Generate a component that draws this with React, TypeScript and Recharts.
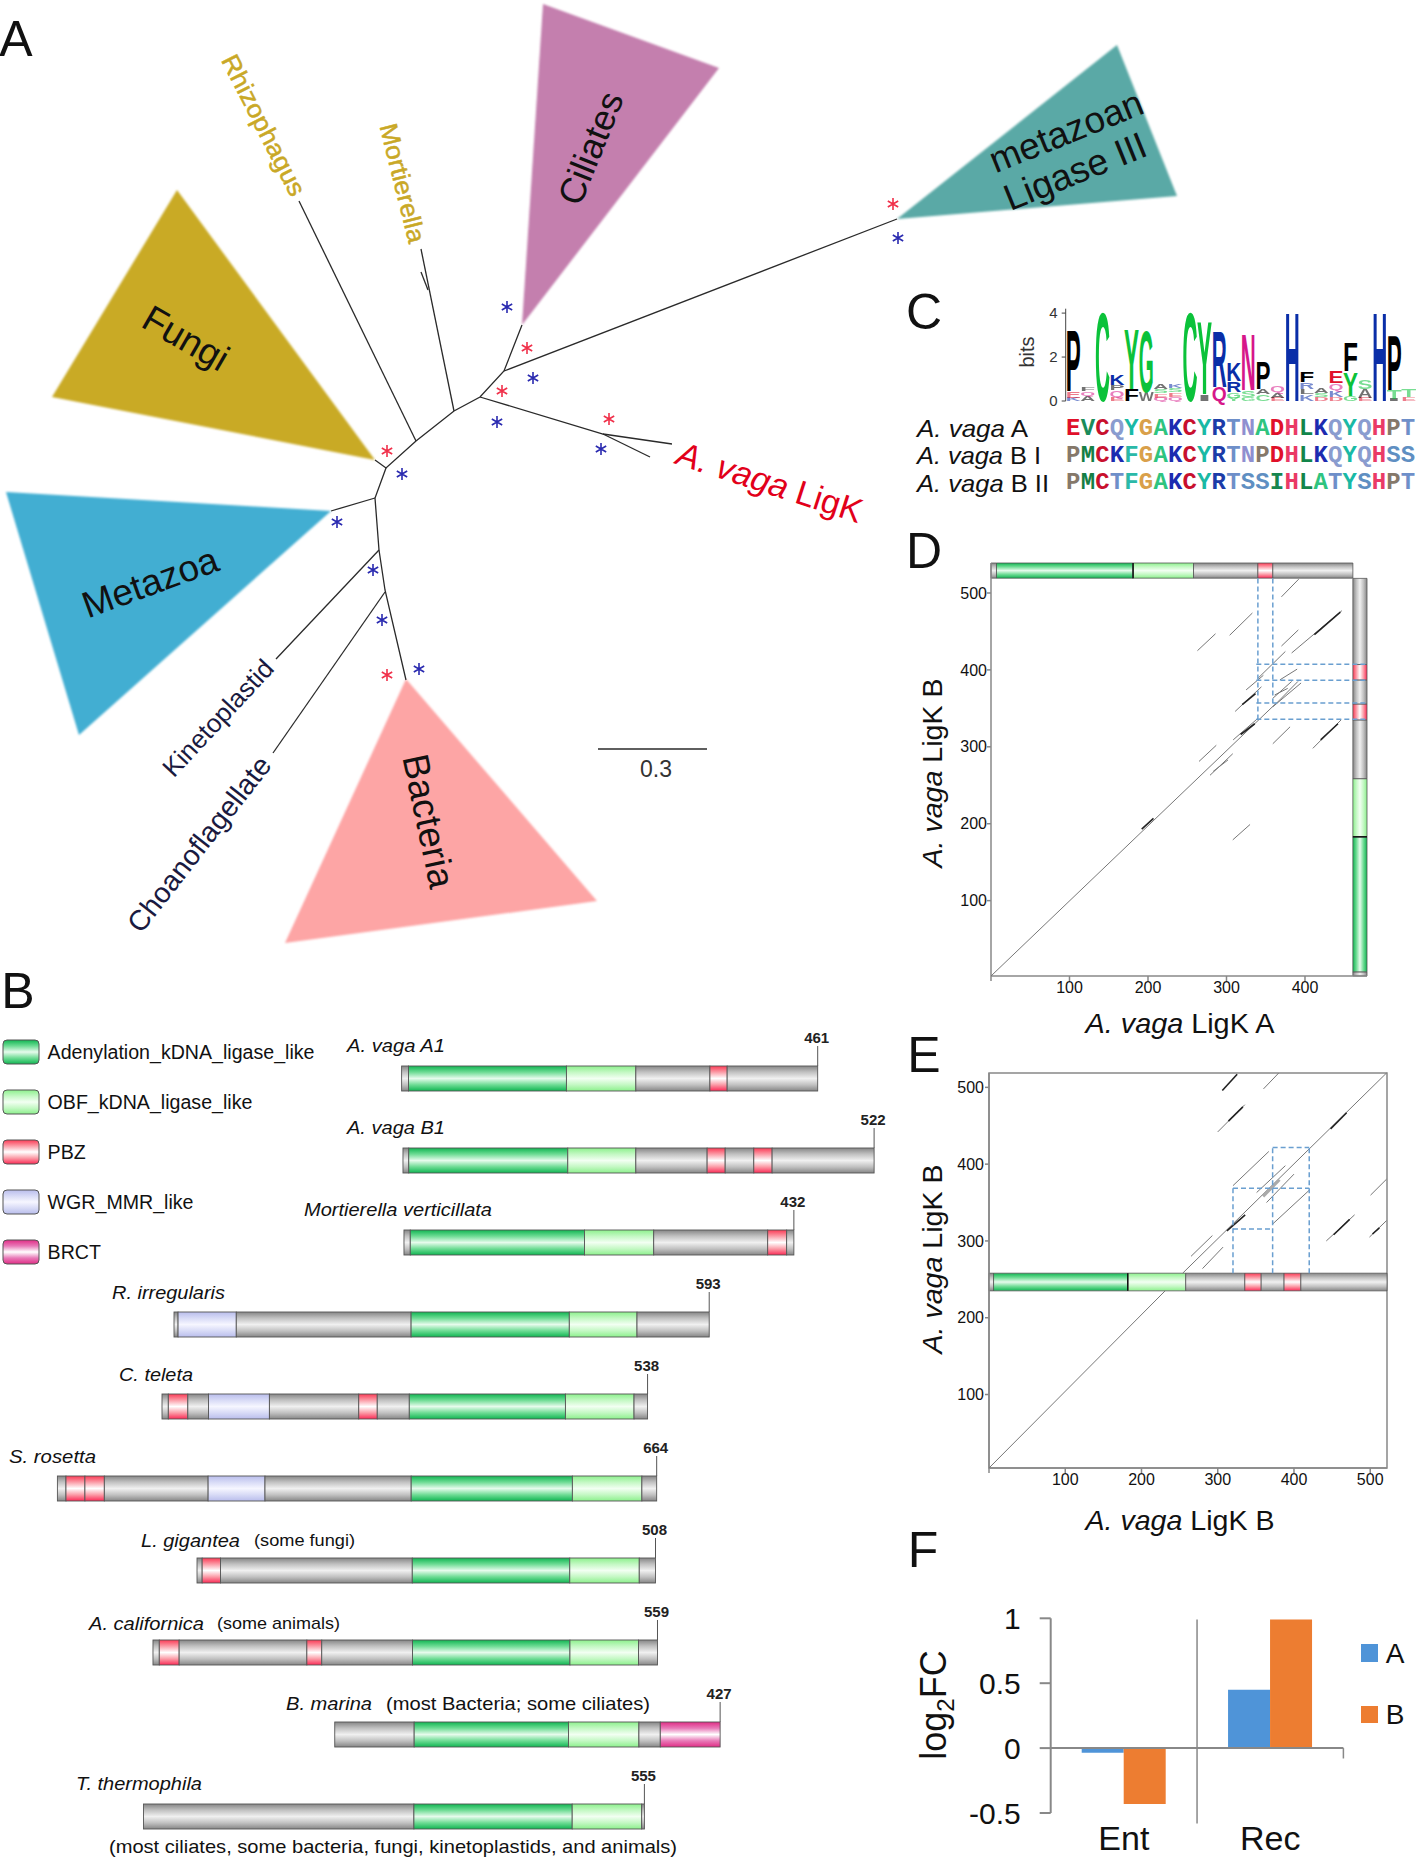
import {
  Bar,
  BarChart,
  ReferenceArea,
  ReferenceLine,
  Scatter,
  ScatterChart,
  XAxis,
  YAxis,
} from "recharts";

const FONT = "'Liberation Sans', Arial, sans-serif";

// ---- panel A: tree, in page units
const TRIANGLES: { color: string; pts: number[][] }[] = [
  { color: "#c9aa25", pts: [[177, 190], [52, 397], [375, 460]] },
  { color: "#c47fae", pts: [[543, 4], [719, 68], [522, 325]] },
  { color: "#5aa9a6", pts: [[1117, 45], [1177, 196], [897, 219]] },
  { color: "#42aed2", pts: [[6, 492], [331, 511], [79, 735]] },
  { color: "#fda5a5", pts: [[406, 679], [285, 943], [597, 901]] },
];
const BRANCHES = [
  [[375, 460], [386, 468], [416, 441], [454, 411], [480, 397], [504, 371], [522, 325]],
  [[299, 201], [416, 441]],
  [[421, 249], [454, 411]],
  [[421, 272], [428, 290]],
  [[504, 371], [897, 219]],
  [[480, 397], [603, 434], [672, 444]],
  [[603, 434], [650, 457]],
  [[386, 468], [375, 498], [379, 550], [385, 590], [406, 680]],
  [[375, 498], [331, 511]],
  [[379, 550], [276, 659]],
  [[385, 592], [273, 753]],
  [[598, 749], [707, 749]],
];
const RED_STARS = [[527, 348], [502, 391], [609, 419], [387, 451], [387, 675], [893, 204]];
const BLUE_STARS = [[507, 307], [533, 378], [497, 422], [601, 449], [402, 474], [373, 570], [382, 620], [419, 669], [337, 522], [898, 238]];

// ---- panel B: domains, residue lengths per protein
const PROTEINS = ["A1", "B1", "Mv", "Ri", "Ct", "Sr", "Lg", "Ac", "Bm", "Tt"];
const OFFSETS = [445, 446.5, 447.6, 192.8, 179.5, 63.6, 218.3, 169.5, 370.9, 159];
const LENGTHS = [461, 522, 432, 593, 538, 664, 508, 559, 427, 555];
const DOMAIN_ENDS: [string, number][][] = [
  [["grey", 7.6], ["green", 182.6], ["light", 259.5], ["grey", 341.6], ["pink", 360.7], ["grey", 461]],
  [["grey", 6.4], ["green", 182.6], ["light", 258], ["grey", 337], ["pink", 357], ["grey", 388.7], ["pink", 409], ["grey", 522]],
  [["grey", 7], ["green", 200], ["light", 276.7], ["grey", 403], ["pink", 424], ["grey", 432]],
  [["grey", 4.5], ["wgr", 69], ["grey", 262.7], ["green", 438], ["light", 513], ["grey", 593]],
  [["grey", 7], ["pink", 28.6], ["grey", 51.5], ["wgr", 119], ["grey", 218], ["pink", 238.5], ["grey", 274], ["green", 447], ["light", 523], ["grey", 538]],
  [["grey", 9.5], ["pink", 30.5], ["pink", 52], ["grey", 167], ["wgr", 230], ["grey", 392], ["green", 570.6], ["light", 647.6], ["grey", 664]],
  [["grey", 5.7], ["pink", 26], ["grey", 238.5], ["green", 413], ["light", 490], ["grey", 508]],
  [["grey", 7], ["pink", 29], ["grey", 170.5], ["pink", 187], ["grey", 287.5], ["green", 462], ["light", 538], ["grey", 559]],
  [["grey", 88], ["green", 259], ["light", 337], ["grey", 360.7], ["brct", 427]],
  [["grey", 299.6], ["green", 475], ["light", 552], ["grey", 555]],
];
const LEGEND_B: [string, string][] = [
  ["green", "Adenylation_kDNA_ligase_like"],
  ["light", "OBF_kDNA_ligase_like"],
  ["pink", "PBZ"],
  ["wgr", "WGR_MMR_like"],
  ["brct", "BRCT"],
];
const GRADIENTS: Record<string, string[]> = {
  grey: ["#868686", "#c2c2c2", "#f0f0f0", "#c2c2c2", "#868686"],
  green: ["#10b552", "#6fdc95", "#e6fbec", "#6fdc95", "#10b552"],
  light: ["#8cf08c", "#c4f8c4", "#f2fff2", "#c4f8c4", "#8cf08c"],
  pink: ["#fb3a55", "#fb9da8", "#ffffff", "#fb9da8", "#fb2a55"],
  wgr: ["#b9bdec", "#d8dbf6", "#f6f6ff", "#d8dbf6", "#b9bdec"],
  brct: ["#e02c85", "#e87ab8", "#ffffff", "#e87ab8", "#e02c85"],
};

// ---- panel C: logo and alignment
const LOGO: [string, number][][] = [
  [["K", 0.15], ["E", 0.3], ["P", 2.85]],
  [["A", 0.25], ["Q", 0.2], ["F", 0.2]],
  [["C", 4.1]],
  [["E", 0.2], ["Q", 0.3], ["P", 0.25], ["K", 0.45]],
  [["F", 0.55], ["Y", 2.8]],
  [["W", 0.4], ["G", 2.85]],
  [["Q", 0.15], ["E", 0.2], ["S", 0.2], ["A", 0.25]],
  [["Q", 0.2], ["E", 0.2], ["S", 0.2], ["K", 0.2]],
  [["C", 4.1]],
  [["I", 0.3], ["Y", 3.4]],
  [["Q", 0.65], ["R", 2.6]],
  [["Y", 0.15], ["G", 0.25], ["R", 0.5], ["K", 0.85]],
  [["G", 0.2], ["S", 0.3], ["N", 2.6]],
  [["C", 0.3], ["A", 0.25], ["P", 1.25]],
  [["E", 0.15], ["A", 0.25], ["Q", 0.3]],
  [["H", 4.1]],
  [["K", 0.3], ["L", 0.25], ["R", 0.3], ["F", 0.5]],
  [["D", 0.2], ["S", 0.15], ["A", 0.25]],
  [["D", 0.2], ["K", 0.3], ["Q", 0.3], ["E", 0.55]],
  [["G", 0.25], ["Y", 1.1], ["F", 1.3]],
  [["E", 0.15], ["A", 0.4], ["S", 0.4]],
  [["H", 4.1]],
  [["I", 0.1], ["T", 0.4], ["P", 2.55]],
  [["E", 0.2], ["T", 0.35]],
];
const LOGO_COLORS: Record<string, string> = {
  C: "#0bc23a", Y: "#0bc23a", G: "#0bc23a", S: "#0bc23a", T: "#0bc23a",
  K: "#0a2ea8", R: "#0a2ea8", H: "#0a2ea8",
  N: "#d6178a", Q: "#d6178a",
  E: "#e0112b", D: "#e0112b",
};
const ALIGNMENT = [
  "EVCQYGAKCYRTNADHLKQYQHPT",
  "PMCKFGAKCYRTNPDHLKQYQHSS",
  "PMCTFGAKCYRTSSIHLATYSHPT",
];
const ALIGN_COLORS: Record<string, string> = {
  E: "#e0102a", D: "#e0102a", V: "#1a8c5a", C: "#c8102e", Q: "#8a9ccf", Y: "#19b9a5", G: "#d9a04a",
  A: "#2fc47f", K: "#1c2bb0", R: "#1c3ca8", T: "#6e8fc9", N: "#8f8fd0", H: "#ea3a66", L: "#12854a",
  P: "#85786a", M: "#157f45", F: "#2ab9a8", S: "#5f8fc2", I: "#17864f",
};

// ---- panel D: dot plot, residues
const D_LIGHT = [
  [0, 2, 363.6, 357], [359, 352, 395, 383], [383, 422, 447, 477], [370, 431, 391.5, 452], [370, 495, 392, 518],
  [304, 445, 333, 474], [263, 425, 286, 447], [340, 389, 375, 424], [325, 374, 347, 393], [311, 346, 344.5, 378],
  [368, 387, 390, 401], [359, 363, 383, 385], [363.6, 356.6, 391, 385], [361.4, 367.4, 378, 376],
  [308.5, 309, 340, 337], [359, 304, 381, 326], [410, 298, 446, 335], [265, 281, 287, 302], [279, 263, 308, 291],
  [283, 268, 302, 283], [308, 179, 330, 199],
];
const D_DARK = [
  [412, 446, 445, 475], [320, 355, 337, 369], [318, 316, 336, 330], [420, 309, 442, 330], [192, 193, 207, 207],
];
const D_DASHED = [
  [340, 519, 340, 336], [359, 519, 359, 357], [338, 336, 479, 336], [338, 357, 479, 357], [338, 386.5, 479, 386.5], [338, 407.4, 479, 407.4],
];
const D_TOP: [string, number, number][] = [["grey", 0, 7], ["green", 7, 181], ["light", 181, 258], ["grey", 258, 340], ["pink", 340, 359], ["grey", 359, 461]];
const D_SIDE: [string, number, number][] = [["grey", 2, 7.4], ["green", 7.4, 183], ["light", 183, 258.6], ["grey", 258.6, 335], ["pink", 335, 355.7], ["grey", 355.7, 387], ["pink", 387, 407], ["grey", 407, 519]];
const D_JOINS = [[181, 519.3, 181, 539], [461, 183, 479, 183]];
const TICKS_D_X = [0, 100, 200, 300, 400];
const TICKS_D_Y = [100, 200, 300, 400, 500];

// ---- panel E: dot plot, residues
const E_LIGHT = [
  [0, 4.3, 231, 235], [254, 258, 521.4, 518.7], [360, 498, 380, 518.7], [300, 442, 335.5, 477.4], [320, 372, 367, 416.5],
  [351, 363, 388.7, 398], [364, 350, 400, 387], [372, 322, 420, 366], [265, 280, 293, 307], [280, 264, 307, 292],
  [500.4, 359.6, 521.4, 380.4], [442.4, 300, 479.5, 334], [499, 305, 521.4, 326.5],
];
const E_DARK = [
  [306, 496, 325.5, 517], [314, 456, 333, 474.5], [448, 446, 469, 467], [312, 313, 336, 334], [452, 308, 473, 328], [503, 309, 512, 317],
];
const E_GREY = [[359.5, 358, 381, 379.6]];
const E_DASHED = [
  [320, 258, 320, 368.7], [372, 258, 372, 421.7], [420, 258, 420, 421.7], [320, 368.7, 420, 368.7], [320, 315.7, 372, 315.7], [372, 421.7, 420, 421.7],
];
const E_BAR: [string, number, number][] = [["grey", 0, 6], ["green", 6, 182], ["light", 182, 258], ["grey", 258, 335.5], ["pink", 335.5, 357], ["grey", 357, 387], ["pink", 387, 409], ["grey", 409, 522]];
const E_JOINS = [[182, 235, 182, 258]];
const TICKS_E_X = [0, 100, 200, 300, 400, 500];
const TICKS_E_Y = [100, 200, 300, 400, 500];

// ---- panel F
const GROUPS = ["Ent", "Rec"];
const SERIES_A = [-0.035, 0.45];
const SERIES_B = [-0.43, 0.99];
const TICKS_F = [-0.5, 0, 0.5, 1];

// ---- text
type Lab = { t: string; x: number; y: number; r?: number; s: number; c?: string; w?: number; a?: string; heavy?: boolean };
const PANEL_LETTERS: Lab[] = [
  { t: "A", x: 16, y: 39, s: 50 }, { t: "B", x: 18, y: 991, s: 50 }, { t: "C", x: 924, y: 312, s: 50 },
  { t: "D", x: 924, y: 551, s: 50 }, { t: "E", x: 924, y: 1055, s: 50 }, { t: "F", x: 923, y: 1550, s: 50 },
];
const GOLD = "#c9a826";
const TREE_LABELS: Lab[] = [
  { t: "Rhizophagus", x: 264, y: 125, r: 63, s: 25, c: GOLD, w: 155, heavy: true },
  { t: "Mortierella", x: 403, y: 183, r: 76, s: 25, c: GOLD, w: 122, heavy: true },
  { t: "Ciliates", x: 590, y: 148, r: -68, s: 36 },
  { t: "Fungi", x: 186, y: 338, r: 30, s: 37 },
  { t: "metazoan", x: 1066, y: 131, r: -22, s: 37 },
  { t: "Ligase III", x: 1075, y: 171, r: -22, s: 37 },
  { t: "Metazoa", x: 150, y: 582, r: -20, s: 37 },
  { t: "Bacteria", x: 429, y: 821, r: 78, s: 37 },
  { t: "Kinetoplastid", x: 218, y: 718, r: -47, s: 26, c: "#1a1a40" },
  { t: "Choanoflagellate", x: 199, y: 844, r: -52, s: 28.5, c: "#1a1a40" },
  { t: "/A. vaga/ LigK", x: 770, y: 482, r: 18, s: 34, c: "#e2001a" },
  { t: "0.3", x: 656, y: 769, s: 23, c: "#333" },
];
const SPECIES_LABELS: Lab[] = [
  { t: "/A. vaga A1/", x: 347, y: 1045, s: 19, w: 98, a: "start" },
  { t: "/A. vaga B1/", x: 347, y: 1127, s: 19, w: 98, a: "start" },
  { t: "/Mortierella verticillata/", x: 304, y: 1209, s: 19, w: 188, a: "start" },
  { t: "/R. irregularis/", x: 112, y: 1292, s: 19, w: 113, a: "start" },
  { t: "/C. teleta/", x: 119, y: 1374, s: 19, w: 74, a: "start" },
  { t: "/S. rosetta/", x: 9, y: 1456, s: 19, w: 87, a: "start" },
  { t: "/L. gigantea/", x: 141, y: 1540, s: 19, w: 99, a: "start" },
  { t: "(some fungi)", x: 254, y: 1540, s: 17, w: 101, a: "start" },
  { t: "/A. californica/", x: 89, y: 1623, s: 19, w: 115, a: "start" },
  { t: "(some animals)", x: 217, y: 1623, s: 17, w: 123, a: "start" },
  { t: "/B. marina/", x: 286, y: 1703, s: 19, w: 86, a: "start" },
  { t: "(most Bacteria; some ciliates)", x: 386, y: 1703, s: 19, w: 264, a: "start" },
  { t: "/T. thermophila/", x: 76, y: 1783, s: 19, w: 126, a: "start" },
  { t: "(most ciliates, some bacteria, fungi, kinetoplastids, and animals)", x: 109, y: 1846, s: 19, w: 568, a: "start" },
];
const SIDE_LABELS: Lab[] = [
  { t: "/A. vaga/ A", x: 917, y: 428, s: 24, w: 111, a: "start" },
  { t: "/A. vaga/ B I", x: 917, y: 455, s: 24, w: 124, a: "start" },
  { t: "/A. vaga/ B II", x: 917, y: 483, s: 24, w: 132, a: "start" },
  { t: "bits", x: 1027, y: 352, r: -90, s: 20, c: "#333" },
  { t: "/A. vaga/ LigK A", x: 1180, y: 1023, s: 28, w: 189 },
  { t: "/A. vaga/ LigK B", x: 932, y: 773, r: -90, s: 28, w: 189 },
  { t: "/A. vaga/ LigK B", x: 1180, y: 1520, s: 28, w: 189 },
  { t: "/A. vaga/ LigK B", x: 932, y: 1259, r: -90, s: 28, w: 189 },
  { t: "A", x: 1395, y: 1653, s: 28 },
  { t: "B", x: 1395, y: 1714, s: 28 },
];

function TextLabel({ l }: { l: Lab }) {
  const parts = l.t.split("/");
  return (
    <text
      x={l.x}
      y={l.y}
      fontSize={l.s}
      fill={l.c || "#111"}
      stroke={l.heavy ? l.c : undefined}
      strokeWidth={l.heavy ? 0.5 : undefined}
      textAnchor={(l.a as any) || "middle"}
      dominantBaseline="central"
      textLength={l.w}
      lengthAdjust={l.w ? "spacingAndGlyphs" : undefined}
      transform={l.r ? `rotate(${l.r} ${l.x} ${l.y})` : undefined}
    >
      {parts.map((p, i) => (
        <tspan key={i} fontStyle={i % 2 === 1 ? "italic" : "normal"}>{p}</tspan>
      ))}
    </text>
  );
}

const noDot = () => <g />;

function star(color: string) {
  return (p: any) => {
    const { cx, cy } = p;
    const r = 6;
    const d = r * 0.866;
    const e = r * 0.5;
    return (
      <path
        d={`M${cx} ${cy - r}V${cy + r}M${cx - d} ${cy - e}L${cx + d} ${cy + e}M${cx - d} ${cy + e}L${cx + d} ${cy - e}`}
        stroke={color}
        strokeWidth={1.6}
        fill="none"
      />
    );
  };
}

function segments(list: number[][], stroke: string, width: number, dash?: string) {
  return list.map((s, i) => (
    <Scatter
      key={`${stroke}-${width}-${i}`}
      data={[{ x: s[0], y: s[1] }, { x: s[2], y: s[3] }]}
      line={{ stroke, strokeWidth: width, strokeDasharray: dash }}
      shape={noDot}
      isAnimationActive={false}
    />
  ));
}

function TreePanel() {
  return (
    <ScatterChart width={1416} height={960} margin={{ top: 0, right: 0, bottom: 0, left: 0 }}>
      <XAxis type="number" dataKey="x" hide domain={[0, 1416]} />
      <YAxis type="number" dataKey="y" hide domain={[0, 960]} reversed />
      {TRIANGLES.map((tri) => (
        <Scatter
          key={tri.color}
          data={tri.pts.map(([x, y]) => ({ x, y }))}
          line={(p: any) => (
            <polygon
              points={p.points.map((q: any) => `${q.x},${q.y}`).join(" ")}
              fill={tri.color}
              style={{ filter: "blur(0.8px)" }}
            />
          )}
          shape={noDot}
          isAnimationActive={false}
        />
      ))}
      {BRANCHES.map((b, i) => (
        <Scatter
          key={i}
          data={b.map(([x, y]) => ({ x, y }))}
          line={{ stroke: "#2a2a2a", strokeWidth: 1.3 }}
          shape={noDot}
          isAnimationActive={false}
        />
      ))}
      <Scatter data={RED_STARS.map(([x, y]) => ({ x, y }))} shape={star("#f0304a")} isAnimationActive={false} />
      <Scatter data={BLUE_STARS.map(([x, y]) => ({ x, y }))} shape={star("#2a2ab0")} isAnimationActive={false} />
    </ScatterChart>
  );
}

const domainRows = PROTEINS.map((name, r) => {
  const row: Record<string, any> = { name, offset: OFFSETS[r], len: LENGTHS[r], cap: 0 };
  let prev = 0;
  DOMAIN_ENDS[r].forEach(([type, end], i) => {
    row[`s${i}`] = end - prev;
    row[`t${i}`] = type;
    prev = end;
  });
  return row;
});

function domainShape(i: number) {
  return (p: any) => {
    if (!p.width) return <g />;
    return (
      <rect
        x={p.x}
        y={p.y}
        width={p.width}
        height={p.height}
        fill={`url(#gy-${p.payload[`t${i}`]})`}
        stroke="#555"
        strokeWidth={0.9}
      />
    );
  };
}

function capShape(p: any) {
  return (
    <g>
      <line x1={p.x} x2={p.x} y1={p.y} y2={p.y - 20} stroke="#555" strokeWidth={1} />
      <text x={p.x - 1} y={p.y - 29} fontSize={15} fontWeight="bold" textAnchor="middle" dominantBaseline="central" fill="#222">
        {p.payload.len}
      </text>
    </g>
  );
}

function DomainPanel() {
  return (
    <BarChart width={900} height={840} layout="vertical" data={domainRows} barSize={25} margin={{ top: 20, right: 0, bottom: 0, left: 0 }}>
      <XAxis type="number" hide domain={[0, 997.2]} />
      <YAxis type="category" dataKey="name" hide />
      <Bar dataKey="offset" stackId="a" fill="none" isAnimationActive={false} />
      {Array.from({ length: 10 }, (_, i) => (
        <Bar key={i} dataKey={`s${i}`} stackId="a" shape={domainShape(i)} isAnimationActive={false} />
      ))}
      <Bar dataKey="cap" stackId="a" shape={capShape} isAnimationActive={false} />
    </BarChart>
  );
}

const logoRows = LOGO.map((stack, i) => {
  const row: Record<string, any> = { pos: i + 1 };
  stack.forEach(([letter, h], k) => {
    row[`h${k}`] = h;
    row[`l${k}`] = letter;
  });
  return row;
});

function logoShape(k: number) {
  return (p: any) => {
    const letter = p.payload[`l${k}`];
    if (!letter || !p.height) return <g />;
    const size = p.height / 0.716;
    return (
      <text
        x={p.x}
        y={p.y + p.height}
        fontSize={size}
        fontWeight="bold"
        textLength={p.width}
        lengthAdjust="spacingAndGlyphs"
        fill={LOGO_COLORS[letter] || "#000"}
        opacity={p.height < 9 ? 0.55 : 1}
      >
        {letter}
      </text>
    );
  };
}

function LogoPanel() {
  return (
    <BarChart width={391} height={112} data={logoRows} barCategoryGap={0} margin={{ top: 8.7, right: 0, bottom: 11, left: 0 }}>
      <XAxis dataKey="pos" hide />
      <YAxis
        width={40.7}
        domain={[0, 4.2]}
        ticks={[0, 2, 4]}
        interval={0}
        tick={{ fontSize: 15, fill: "#333" }}
        tickSize={4}
        tickMargin={4}
        stroke="#444"
      />
      {[0, 1, 2, 3].map((k) => (
        <Bar key={k} dataKey={`h${k}`} stackId="a" shape={logoShape(k)} isAnimationActive={false} />
      ))}
    </BarChart>
  );
}

const alignPoints = ALIGNMENT.flatMap((seq, r) =>
  seq.split("").map((letter, i) => ({ x: i + 1, y: r + 1, letter })),
);

function AlignPanel() {
  return (
    <ScatterChart width={349.3} height={81} margin={{ top: 0, right: 0, bottom: 0, left: 0 }}>
      <XAxis type="number" dataKey="x" hide domain={[0.5, 24.5]} />
      <YAxis type="number" dataKey="y" hide domain={[0.5, 3.5]} reversed />
      <Scatter
        data={alignPoints}
        isAnimationActive={false}
        shape={(p: any) => (
          <text
            x={p.cx}
            y={p.cy}
            fontFamily="'Liberation Mono', monospace"
            fontWeight="bold"
            fontSize={24}
            textAnchor="middle"
            dominantBaseline="central"
            fill={ALIGN_COLORS[p.payload.letter]}
          >
            {p.payload.letter}
          </text>
        )}
      />
    </ScatterChart>
  );
}

const axisStyle = { stroke: "#888", strokeWidth: 1.5 };

function DotPlotD() {
  return (
    <ScatterChart width={441} height={453} margin={{ top: 10, right: 5, bottom: 0, left: 0 }}>
      <XAxis
        type="number"
        dataKey="x"
        domain={[0, 479]}
        ticks={TICKS_D_X}
        interval={0}
        height={30}
        tickSize={5}
        tickMargin={1}
        tick={{ fontSize: 16, fill: "#111" }}
        tickFormatter={(v: number) => (v === 0 ? "" : String(v))}
        axisLine={axisStyle}
        tickLine={axisStyle}
      />
      <YAxis
        type="number"
        dataKey="y"
        domain={[2, 539]}
        ticks={TICKS_D_Y}
        interval={0}
        width={60}
        tickSize={4}
        tickMargin={0}
        tick={{ fontSize: 16, fill: "#111" }}
        axisLine={axisStyle}
        tickLine={axisStyle}
      />
      {D_TOP.map(([type, a, b], i) => (
        <ReferenceArea key={`t${i}`} x1={a} x2={b} y1={519.3} y2={539} fill={`url(#gy-${type})`} fillOpacity={1} stroke="#555" strokeWidth={0.8} />
      ))}
      {D_SIDE.map(([type, a, b], i) => (
        <ReferenceArea key={`s${i}`} x1={461} x2={479} y1={a} y2={b} fill={`url(#gx-${type})`} fillOpacity={1} stroke="#555" strokeWidth={0.8} />
      ))}
      {segments(D_LIGHT, "#777", 1)}
      {segments(D_DARK, "#222", 1.6)}
      {segments(D_DASHED, "#6a9fd0", 1.5, "5 3")}
      {segments(D_JOINS, "#111", 1.5)}
    </ScatterChart>
  );
}

function DotPlotE() {
  return (
    <ScatterChart width={468} height={435} margin={{ top: 10, right: 10, bottom: 0, left: 0 }}>
      <XAxis
        type="number"
        dataKey="x"
        domain={[0, 522]}
        ticks={TICKS_E_X}
        interval={0}
        height={30}
        tickSize={5}
        tickMargin={1}
        tick={{ fontSize: 16, fill: "#111" }}
        tickFormatter={(v: number) => (v === 0 ? "" : String(v))}
        axisLine={axisStyle}
        tickLine={axisStyle}
      />
      <YAxis
        type="number"
        dataKey="y"
        domain={[4.3, 518.7]}
        ticks={TICKS_E_Y}
        interval={0}
        width={60}
        tickSize={4}
        tickMargin={1}
        tick={{ fontSize: 16, fill: "#111" }}
        axisLine={axisStyle}
        tickLine={axisStyle}
      />
      <ReferenceArea x1={0} x2={522} y1={4.3} y2={518.7} fill="none" stroke="#888" strokeWidth={1.5} />
      {E_BAR.map(([type, a, b], i) => (
        <ReferenceArea key={i} x1={a} x2={b} y1={235} y2={258} fill={`url(#gy-${type})`} fillOpacity={1} stroke="#555" strokeWidth={0.8} />
      ))}
      {segments(E_LIGHT, "#777", 1)}
      {segments(E_DARK, "#222", 1.6)}
      {segments(E_GREY, "#aaa", 3)}
      {segments(E_DASHED, "#6a9fd0", 1.5, "5 3")}
      {segments(E_JOINS, "#111", 1.5)}
    </ScatterChart>
  );
}

const barRows = GROUPS.map((name, i) => ({ name, A: SERIES_A[i], B: SERIES_B[i] }));

function BarPanel() {
  const grey = { stroke: "#888", strokeWidth: 2 };
  return (
    <BarChart
      width={460}
      height={258}
      data={barRows}
      barSize={42}
      barGap={0}
      margin={{ top: 18.3, right: 66.6, bottom: 0, left: 0 }}
    >
      <XAxis dataKey="name" axisLine={false} tickLine={false} height={45} tickMargin={7} tick={{ fontSize: 34, fill: "#111" }} />
      <YAxis
        width={100.7}
        domain={[-0.5, 1]}
        ticks={TICKS_F}
        interval={0}
        tickSize={11}
        tickMargin={19}
        tick={{ fontSize: 30, fill: "#111" }}
        axisLine={grey}
        tickLine={grey}
      />
      <Bar dataKey="A" fill="#4f94d8" isAnimationActive={false} />
      <Bar dataKey="B" fill="#ed7d31" isAnimationActive={false} />
      <ReferenceLine y={0} stroke="#888" strokeWidth={2} />
      <ReferenceLine
        segment={[{ x: "Rec", y: 0.99 }, { x: "Rec", y: -0.58 }]}
        position="start"
        ifOverflow="visible"
        stroke="#888"
        strokeWidth={1.5}
      />
      <ReferenceLine
        segment={[{ x: "Rec", y: 0 }, { x: "Rec", y: -0.08 }]}
        position="end"
        ifOverflow="visible"
        stroke="#888"
        strokeWidth={1.5}
      />
    </BarChart>
  );
}

function Place({ x, y, children }: { x: number; y: number; children: any }) {
  return <div style={{ position: "absolute", left: x, top: y }}>{children}</div>;
}

export default function App() {
  return (
    <div style={{ position: "absolute", left: 0, top: 0, width: 1416, height: 1858, background: "#fff", fontFamily: FONT, overflow: "hidden" }}>
      <svg width={0} height={0} style={{ position: "absolute" }}>
        <defs>
          {Object.entries(GRADIENTS).map(([name, stops]) => (
            <linearGradient key={`y${name}`} id={`gy-${name}`} x1="0" y1="0" x2="0" y2="1">
              {stops.map((c, i) => <stop key={i} offset={`${(i / (stops.length - 1)) * 100}%`} stopColor={c} />)}
            </linearGradient>
          ))}
          {Object.entries(GRADIENTS).map(([name, stops]) => (
            <linearGradient key={`x${name}`} id={`gx-${name}`} x1="0" y1="0" x2="1" y2="0">
              {stops.map((c, i) => <stop key={i} offset={`${(i / (stops.length - 1)) * 100}%`} stopColor={c} />)}
            </linearGradient>
          ))}
        </defs>
      </svg>

      <Place x={0} y={0}><TreePanel /></Place>
      <Place x={0} y={1017}><DomainPanel /></Place>
      <Place x={1025} y={300}><LogoPanel /></Place>
      <Place x={1065.7} y={414.5}><AlignPanel /></Place>
      <Place x={931} y={553}><DotPlotD /></Place>
      <Place x={929} y={1063}><DotPlotE /></Place>
      <Place x={950} y={1600}><BarPanel /></Place>

      {/* legends and free text */}
      <svg width={1416} height={1858} style={{ position: "absolute", left: 0, top: 0, pointerEvents: "none" }}>
        {LEGEND_B.map(([type, name], i) => (
          <g key={type}>
            <rect x={3} y={1040 + i * 50} width={36} height={24} rx={4} fill={`url(#gy-${type})`} stroke="#555" strokeWidth={1} />
            <text x={47.6} y={1052 + i * 50} fontSize={19.6} fill="#111" dominantBaseline="central">{name}</text>
          </g>
        ))}
        <rect x={1361} y={1644} width={17} height={18} fill="#4f94d8" />
        <rect x={1361} y={1706} width={17} height={17} fill="#ed7d31" />
        <text transform="translate(946 1705) rotate(-90)" fontSize={36} fill="#111" textAnchor="middle">
          log<tspan fontSize={24} dy={8}>2</tspan><tspan dy={-8}>FC</tspan>
        </text>
        {[...PANEL_LETTERS, ...TREE_LABELS, ...SPECIES_LABELS, ...SIDE_LABELS].map((l, i) => (
          <TextLabel key={i} l={l} />
        ))}
      </svg>
    </div>
  );
}
